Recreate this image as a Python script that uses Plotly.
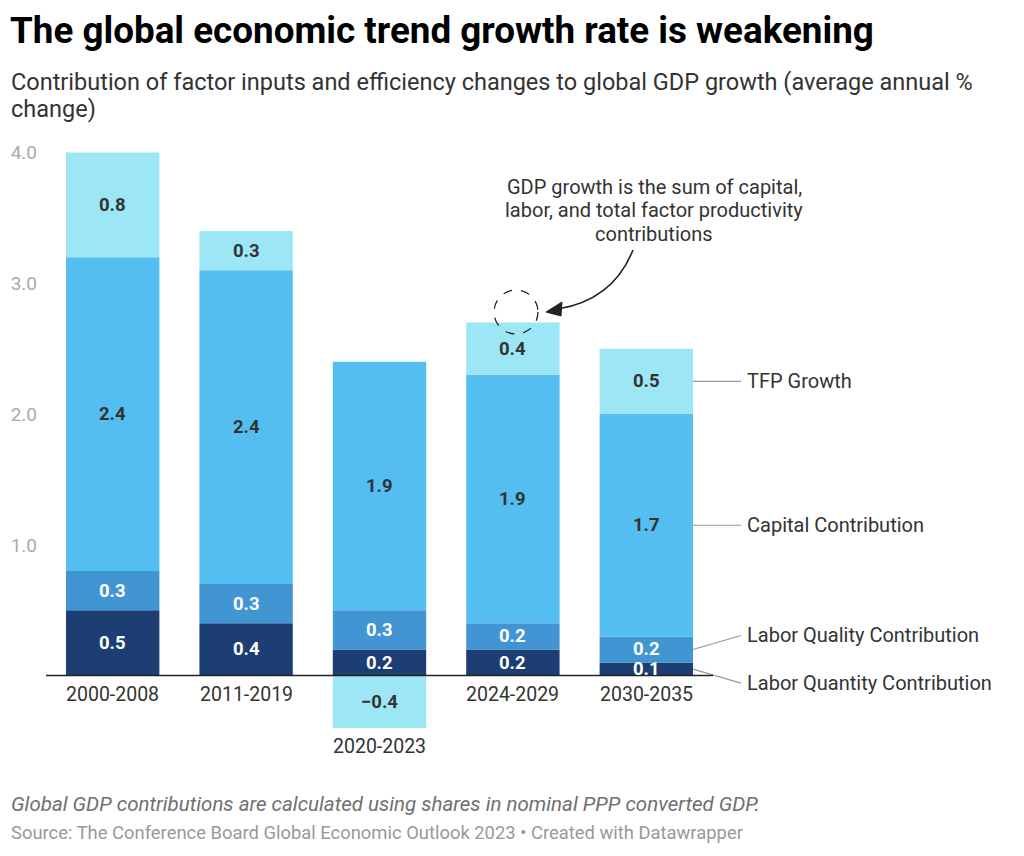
import plotly.graph_objects as go

# ---------------- data ----------------
categories = ["2000-2008", "2011-2019", "2020-2023", "2024-2029", "2030-2035"]
labor_quantity = [0.5, 0.4, 0.2, 0.2, 0.1]
labor_quality = [0.3, 0.3, 0.3, 0.2, 0.2]
capital = [2.4, 2.4, 1.9, 1.9, 1.7]
tfp = [0.8, 0.3, -0.4, 0.4, 0.5]
series_names = ["Labor Quantity Contribution", "Labor Quality Contribution",
                "Capital Contribution", "TFP Growth"]
y_tick_values = [1, 2, 3, 4]
y_tick_labels = ["1.0", "2.0", "3.0", "4.0"]

# ---------------- styles ----------------
FONT = "Roboto"
colors = ["#1d3e73", "#4295d3", "#55bef0", "#9de6f6"]
label_colors = ["#ffffff", "#ffffff", "#333333", "#333333"]
series = [labor_quantity, labor_quality, capital, tfp]

W, H = 1024, 856
ML, MR, MT, MB = 46, 311, 146, 115
PW = W - ML - MR
PH = H - MT - MB
X_RANGE = [-0.5, 4.5]
Y_RANGE = [-0.5, 4.05]
BARGAP = 0.3
px_per_x = PW / (X_RANGE[1] - X_RANGE[0])
px_per_y = PH / (Y_RANGE[1] - Y_RANGE[0])


def px_to_paper(px, py):
    return (px - ML) / PW, (H - MB - py) / PH


def xdata_to_paper(xd):
    return (xd - X_RANGE[0]) / (X_RANGE[1] - X_RANGE[0])


fig = go.Figure()
for name, vals, col in zip(series_names, series, colors):
    fig.add_bar(x=categories, y=vals, name=name, marker_color=col,
                marker_line_width=0, hoverinfo="skip")

annotations = []
shapes = []

# value labels inside segments
pos_base = [0.0] * len(categories)
neg_base = [0.0] * len(categories)
for vals, lc in zip(series, label_colors):
    for i, v in enumerate(vals):
        if v >= 0:
            mid = pos_base[i] + v / 2
            pos_base[i] += v
        else:
            mid = neg_base[i] + v / 2
            neg_base[i] += v
        annotations.append(dict(
            x=categories[i], y=mid, xref="x", yref="y",
            text=f"{v:.1f}".replace("-", "\u2212"), showarrow=False,
            font=dict(family=FONT, size=18.5, color=lc, weight="bold"),
            xanchor="center", yanchor="middle", borderpad=0))

# category labels (below bar or below zero line)
for i, c in enumerate(categories):
    annotations.append(dict(
        x=c, y=min(0, neg_base[i]), xref="x", yref="y", text=c,
        showarrow=False, yanchor="top", yshift=-5,
        font=dict(family=FONT, size=19.5, color="#333333")))

# direct labels for last bar
last = len(categories) - 1
half_bar = (1 - BARGAP) / 2
edge_x = xdata_to_paper(last + half_bar)
line_end_x = edge_x + 48 / PW
text_x = line_end_x + 4 / PW
label_offsets_px = [-14, 14, 0, 0]  # label offset (up positive) per series
base = 0.0
for vals, name, off in zip(series, series_names, label_offsets_px):
    v = vals[last]
    mid = base + v / 2
    base += v
    y_lab = mid + off / px_per_y
    shapes.append(dict(type="line", xref="paper", yref="y",
                       x0=edge_x, y0=mid, x1=line_end_x, y1=y_lab,
                       line=dict(color="#999999", width=1.2)))
    annotations.append(dict(
        x=text_x, y=y_lab, xref="paper", yref="y", text=name, showarrow=False,
        xanchor="left", yanchor="middle",
        font=dict(family=FONT, size=20, color="#333333")))

# zero line above bars
shapes.append(dict(type="line", xref="paper", yref="y", x0=0, x1=1, y0=0, y1=0,
                   line=dict(color="#222222", width=1.5), layer="above"))

# callout annotation (one line per annotation for tight leading)
callout_lines = ["GDP growth is the sum of capital,",
                 "labor, and total factor productivity",
                 "contributions"]
for k, ln in enumerate(callout_lines):
    tx, ty = px_to_paper(654, 187 + 23.5 * k)
    annotations.append(dict(
        x=tx, y=ty, xref="paper", yref="paper", showarrow=False, text=ln,
        xanchor="center", yanchor="middle",
        font=dict(family=FONT, size=20, color="#333333")))

# dashed circle
cx0, cy0 = px_to_paper(494, 334)
cx1, cy1 = px_to_paper(538, 290)
shapes.append(dict(type="circle", xref="paper", yref="paper",
                   x0=cx0, y0=cy0, x1=cx1, y1=cy1,
                   line=dict(color="#222222", width=1.3, dash="dash")))

# curved arrow
p0 = px_to_paper(633, 250)
pc = px_to_paper(613, 300)
p2 = px_to_paper(558, 309)
shapes.append(dict(type="path", xref="paper", yref="paper",
                   path=f"M {p0[0]},{p0[1]} Q {pc[0]},{pc[1]} {p2[0]},{p2[1]}",
                   line=dict(color="#222222", width=1.6)))
a0 = px_to_paper(546, 312)
a1 = px_to_paper(562, 302)
a2 = px_to_paper(561, 316)
shapes.append(dict(type="path", xref="paper", yref="paper",
                   path=f"M {a0[0]},{a0[1]} L {a1[0]},{a1[1]} L {a2[0]},{a2[1]} Z",
                   fillcolor="#222222", line=dict(color="#222222", width=1)))

# subtitle (two lines)
subtitle_lines = ["Contribution of factor inputs and efficiency changes to global GDP growth (average annual %",
                  "change)"]
for k, ln in enumerate(subtitle_lines):
    sx, sy = px_to_paper(9, 82 + 27 * k)
    annotations.append(dict(
        x=sx, y=sy, xref="paper", yref="paper", showarrow=False, align="left",
        xanchor="left", yanchor="middle", text=ln,
        font=dict(family=FONT, size=23.5, color="#333333")))

# notes
nx, ny = px_to_paper(9, 804)
annotations.append(dict(
    x=nx, y=ny, xref="paper", yref="paper", showarrow=False, align="left",
    xanchor="left", yanchor="middle",
    text="<i>Global GDP contributions are calculated using shares in nominal PPP converted GDP.</i>",
    font=dict(family=FONT, size=20.5, color="#707070")))
sx2, sy2 = px_to_paper(9, 833)
annotations.append(dict(
    x=sx2, y=sy2, xref="paper", yref="paper", showarrow=False, align="left",
    xanchor="left", yanchor="middle",
    text="Source: The Conference Board Global Economic Outlook 2023 \u2022 Created with Datawrapper",
    font=dict(family=FONT, size=18.4, color="#999999")))

fig.update_layout(
    width=W, height=H,
    margin=dict(l=ML, r=MR, t=MT, b=MB, autoexpand=False),
    paper_bgcolor="white", plot_bgcolor="white",
    barmode="relative", bargap=BARGAP, showlegend=False,
    title=dict(text="<b>The global economic trend growth rate is weakening</b>",
               xref="container", yref="container", x=10 / W, xanchor="left",
               y=1 - 30 / H, yanchor="middle",
               font=dict(family=FONT, size=36.8, color="#000000")),
    xaxis=dict(type="category", range=X_RANGE, showticklabels=False,
               showgrid=False, showline=False, zeroline=False, ticks=""),
    yaxis=dict(range=Y_RANGE, tickvals=y_tick_values, ticktext=y_tick_labels,
               showgrid=False, zeroline=False, showline=False, ticks="",
               ticklabelstandoff=8,
               tickfont=dict(family=FONT, size=19, color="#aaaaaa")),
    annotations=annotations, shapes=shapes,
)

fig.write_html("out.html", config={"displayModeBar": False},
               post_script="document.body.style.margin='0';document.body.style.padding='0';")
